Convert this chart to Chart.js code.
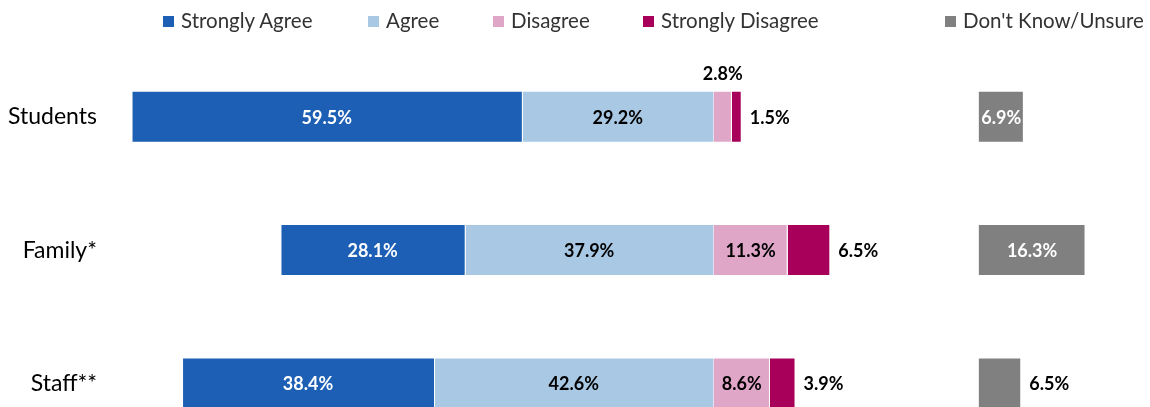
<!DOCTYPE html>
<html>
<head>
<meta charset="utf-8">
<script src="https://cdn.jsdelivr.net/npm/chart.js@4"></script>
<style>
  html, body { margin: 0; padding: 0; overflow: hidden; background: #fff; }
  #wrap { position: relative; width: 1150px; height: 490px; }
  #surveyChart { display: block; }
  #legend { position: absolute; top: 0; left: 0; width: 1150px; height: 40px; font-family: Lato, sans-serif; font-size: 20.5px; color: #333; }
  .item { position: absolute; top: 9px; height: 22px; line-height: 22px; white-space: nowrap; }
  .box { display: inline-block; width: 11px; height: 11px; margin-right: 7px; vertical-align: 1px; }
</style>
</head>
<body>
<div id="wrap">
  <canvas id="surveyChart" width="1150" height="490"></canvas>
  <div id="legend"></div>
</div>
<script>
const categories = ['Students', 'Family*', 'Staff**'];
const stronglyAgree = [59.5, 28.1, 38.4];
const agree = [29.2, 37.9, 42.6];
const disagree = [2.8, 11.3, 8.6];
const stronglyDisagree = [1.5, 6.5, 3.9];
const dontKnow = [6.9, 16.3, 6.5];

// layout bits
const xMin = -90, xMax = 65;
const dkGap = 40.4;          // how far right of zero the unsure bars start
const minInside = 6.6;       // smaller values get their label outside the bar
const legendX = [163, 368, 493, 643, 945];

const colors = {
    sa: '#1C5FB4',
    a: '#A9C8E4',
    d: '#E0A6C8',
    sd: '#A8005A',
    dk: '#808080'
};

const datasets = [
    { key: 'a', label: 'Agree', data: agree.map(v => -v), backgroundColor: colors.a, xAxisID: 'x' },
    { key: 'sa', label: 'Strongly Agree', data: stronglyAgree.map(v => -v), backgroundColor: colors.sa, xAxisID: 'x' },
    { key: 'd', label: 'Disagree', data: disagree, backgroundColor: colors.d, xAxisID: 'x' },
    { key: 'sd', label: 'Strongly Disagree', data: stronglyDisagree, backgroundColor: colors.sd, xAxisID: 'x' },
    { key: 'dk', label: "Don't Know/Unsure", data: dontKnow, backgroundColor: colors.dk, xAxisID: 'x2' }
];
datasets.forEach(ds => {
    ds.borderColor = '#fff';
    ds.borderWidth = 1;
    ds.barPercentage = 0.39;
    ds.categoryPercentage = 1;
});

const darkBars = ['sa', 'sd', 'dk'];

const labelPlugin = {
    id: 'barLabels',
    afterDatasetsDraw(chart) {
        const ctx = chart.ctx;
        ctx.save();
        ctx.font = 'bold 18px Lato, sans-serif';
        ctx.textBaseline = 'middle';
        chart.data.datasets.forEach((ds, i) => {
            const meta = chart.getDatasetMeta(i);
            meta.data.forEach((bar, j) => {
                const p = bar.getProps(['x', 'base', 'y', 'height'], true);
                const left = Math.min(p.x, p.base);
                const right = Math.max(p.x, p.base);
                const v = Math.abs(ds.data[j]);
                const txt = v.toFixed(1) + '%';
                const small = v < minInside && (ds.key === 'd' || ds.key === 'sd' || ds.key === 'dk');
                if (!small) {
                    ctx.textAlign = 'center';
                    ctx.fillStyle = darkBars.includes(ds.key) ? '#fff' : '#000';
                    ctx.fillText(txt, (left + right) / 2, p.y + 1);
                } else if (ds.key === 'd') {
                    ctx.textAlign = 'center';
                    ctx.fillStyle = '#000';
                    ctx.fillText(txt, (left + right) / 2, p.y - p.height / 2 - 16);
                } else {
                    ctx.textAlign = 'left';
                    ctx.fillStyle = '#000';
                    ctx.fillText(txt, right + 8, p.y + 1);
                }
            });
        });
        ctx.restore();
    }
};

const chart = new Chart(document.getElementById('surveyChart'), {
    type: 'bar',
    data: { labels: categories, datasets: datasets },
    options: {
        indexAxis: 'y',
        responsive: false,
        animation: false,
        layout: { padding: { top: 50, bottom: 9, left: 0, right: 10 } },
        plugins: { legend: { display: false }, tooltip: { enabled: false } },
        scales: {
            x: { stacked: true, min: xMin, max: xMax, display: false },
            x2: { stacked: true, min: xMin - dkGap, max: xMax - dkGap, display: false },
            y: {
                stacked: true,
                grid: { display: false, drawTicks: false },
                border: { display: false },
                ticks: { padding: 26, color: '#000', font: { family: 'Lato', size: 23 } },
                afterFit(scale) { scale.width = 123; }
            }
        }
    },
    plugins: [labelPlugin]
});

// legend in the original order
const legendOrder = ['sa', 'a', 'd', 'sd', 'dk'];
const legendEl = document.getElementById('legend');
legendOrder.forEach((key, i) => {
    const ds = datasets.find(d => d.key === key);
    const item = document.createElement('div');
    item.className = 'item';
    item.style.left = legendX[i] + 'px';
    item.innerHTML = '<span class="box" style="background:' + ds.backgroundColor + '"></span>' + ds.label;
    legendEl.appendChild(item);
});
</script>
</body>
</html>
